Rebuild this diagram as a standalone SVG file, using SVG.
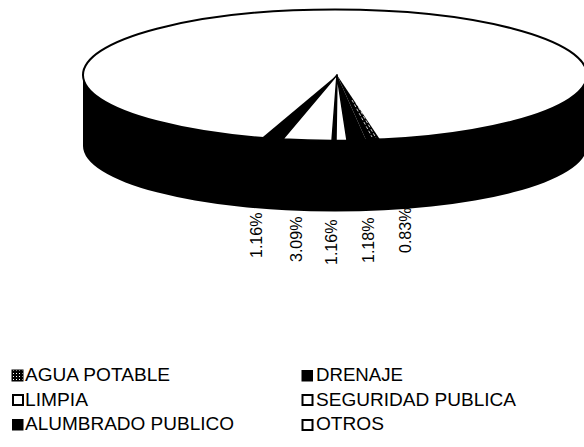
<svg xmlns="http://www.w3.org/2000/svg" width="584" height="447" viewBox="0 0 584 447">
<style>
.lbl{font-family:"Liberation Sans",Arial,sans-serif;font-size:16px;fill:#000}
.leg{font-family:"Liberation Sans",Arial,sans-serif;font-size:18px;fill:#000}
.blk{fill:#000}
.wht{fill:#fff;stroke:#000;stroke-width:1.5;stroke-linejoin:round}
.box{fill:#fff;stroke:#000;stroke-width:2}
</style>
<defs>
<pattern id="hatch" width="3" height="3" patternUnits="userSpaceOnUse">
<rect width="3" height="3" fill="#000"/>
<rect x="1" y="1" width="1" height="1" fill="#fff"/>
</pattern>
</defs>
<rect width="584" height="447" fill="#fff"/>
<g id="pie">
<path id="side" class="blk" d="M83 75 L83 146 A252 65.5 0 0 0 587 146 L587 75 A252 65.5 0 0 1 83 75 Z"/>
<ellipse id="top" cx="335" cy="75" rx="252" ry="65.5" fill="#fff" stroke="#000" stroke-width="2"/>
<g id="slices">
<path id="drenaje" class="blk" d="M337 75 L262 137.7 A252 65.5 0 0 0 283 139.1 Z"/>
<path id="limpia" class="wht" d="M337 75 L283 139.1 A252 65.5 0 0 0 332 140.5 Z"/>
<path id="sep" class="blk" d="M337 75 L332 140.5 L336 140.5 Z"/>
<path id="seguridad" class="wht" d="M337 75 L336 140.5 A252 65.5 0 0 0 347 140.4 Z"/>
<path id="alumbrado" class="blk" d="M337 75 L347 140.4 A252 65.5 0 0 0 366 140 Z"/>
<path id="otros" class="blk" d="M337 75 L366 140 A252 65.5 0 0 0 380 139.5 Z"/>
<path d="M352 100 L372 137 M356 103 L376 138" stroke="#fff" stroke-width="0.8" stroke-dasharray="3 2" fill="none"/>
</g>
</g>
<g id="labels">
<text class="lbl" transform="translate(262,258) rotate(-90)">1.16%</text>
<text class="lbl" transform="translate(302,262) rotate(-90)">3.09%</text>
<text class="lbl" transform="translate(337,265) rotate(-90)">1.16%</text>
<text class="lbl" transform="translate(374,263) rotate(-90)">1.18%</text>
<text class="lbl" transform="translate(411,253) rotate(-90)">0.83%</text>
</g>
<g id="legend">
<g id="leg-agua"><rect x="12" y="370" width="11" height="11" fill="url(#hatch)" stroke="#000" stroke-width="1"/><text class="leg" x="25" y="380.5" textLength="145" lengthAdjust="spacingAndGlyphs">AGUA POTABLE</text></g>
<g id="leg-limpia"><rect x="13" y="395" width="10" height="10" class="box"/><text class="leg" x="25" y="405.5" textLength="63" lengthAdjust="spacingAndGlyphs">LIMPIA</text></g>
<g id="leg-alumbrado"><rect x="12" y="419" width="11.5" height="11.5" class="blk"/><text class="leg" x="25" y="430" textLength="209" lengthAdjust="spacingAndGlyphs">ALUMBRADO PUBLICO</text></g>
<g id="leg-drenaje"><rect x="301.5" y="370" width="11.5" height="11.5" class="blk"/><text class="leg" x="316" y="380.5" textLength="87" lengthAdjust="spacingAndGlyphs">DRENAJE</text></g>
<g id="leg-seguridad"><rect x="302.5" y="395" width="10" height="10" class="box"/><text class="leg" x="316" y="405.5" textLength="200" lengthAdjust="spacingAndGlyphs">SEGURIDAD PUBLICA</text></g>
<g id="leg-otros"><rect x="302.5" y="420" width="10" height="10" class="box"/><text class="leg" x="316" y="430" textLength="68" lengthAdjust="spacingAndGlyphs">OTROS</text></g>
</g>
</svg>
